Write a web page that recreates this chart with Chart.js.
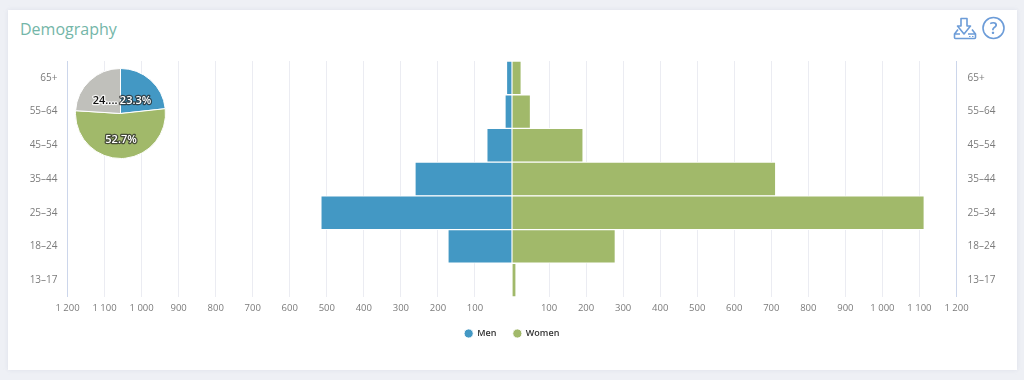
<!DOCTYPE html>
<html lang="en">
<head>
<meta charset="UTF-8" />
<title>Demography</title>
<script src="https://cdn.jsdelivr.net/npm/chart.js"></script>
<style>
  html, body { margin: 0; width: 1024px; height: 380px; overflow: hidden; background: #eef0f5; }
  .panel { position: absolute; left: 8px; top: 10px; width: 1009px; height: 360px; background: #fff; box-shadow: 0 0 4px rgba(190,195,215,.35); }
  .title { position: absolute; left: 20px; top: 18px; font: 400 16px "Open Sans", sans-serif; color: #74b6a8; }
  #pyramid { position: absolute; left: 0; top: 0; }
  #pie { position: absolute; left: 75px; top: 68px; }
  .icons { position: absolute; left: 953px; top: 15px; }
</style>
</head>
<body>
<div class="panel"></div>
<div class="title">Demography</div>
<canvas id="pyramid" width="1024" height="380"></canvas>
<canvas id="pie" width="91" height="91"></canvas>
<svg class="icons" width="56" height="26" viewBox="0 0 56 26" fill="none" stroke="#6c9cd8" stroke-width="1.6">
  <path d="M8 3.500h6V11h3.500L11 19 4.500 11H8z" stroke-linejoin="round"/>
  <path d="M5 14.500L1.500 19v3.500q0 1 1 1h19q1 0 1-1V19L19 14.500M1.500 19H7M15 19h7.500" stroke-linejoin="round"/>
  <path d="M16 21.500h1.500M19 21.500h1.500" stroke-width="1.200"/>
  <circle cx="40.500" cy="13" r="10.500"/>
  <text x="40.500" y="19" text-anchor="middle" font-family="Open Sans" font-weight="600" font-size="17" fill="#6c9cd8" stroke="none">?</text>
</svg>
<script>
const ageGroups = ['65+', '55–64', '45–54', '35–44', '25–34', '18–24', '13–17'];
const menValues = [-15, -19, -68, -262, -516, -173, 0];
const womenValues = [25, 50, 192, 712, 1113, 279, 11];
const tickStep = 100;
const axisMax = 1200;
const pieLabels = ['Men', 'Women', 'Other'];
const pieValues = [23.3, 52.7, 24.0];
const pieTexts = ['23.3%', '52.7%', '24....'];

const tickColor = '#7b7b7b';
const tickFont = { family: 'Open Sans', size: 9.5 };
const catFont = { family: 'Open Sans', size: 10 };

function fmt(v) {
  v = Math.abs(v);
  if (v === 0) return '';
  return v >= 1000 ? Math.floor(v / 1000) + ' ' + String(v % 1000).padStart(3, '0') : String(v);
}

new Chart(document.getElementById('pyramid'), {
  type: 'bar',
  data: {
    labels: ageGroups,
    datasets: [
      { label: 'Men', data: menValues, backgroundColor: '#4398c4', borderColor: '#fff', borderWidth: 1, barPercentage: 1, categoryPercentage: 1 },
      { label: 'Women', data: womenValues, backgroundColor: '#a1b96a', borderColor: '#fff', borderWidth: 1, barPercentage: 1, categoryPercentage: 1 }
    ]
  },
  options: {
    indexAxis: 'y',
    responsive: false,
    animation: false,
    layout: { padding: { top: 61, bottom: 32 } },
    plugins: {
      tooltip: { enabled: false },
      legend: {
        position: 'bottom',
        labels: { usePointStyle: true, pointStyle: 'circle', boxWidth: 8, boxHeight: 6.500, padding: 17, color: '#333', font: { family: 'Open Sans', size: 9, weight: '600' } }
      }
    },
    scales: {
      x: {
        stacked: true,
        min: -axisMax,
        max: axisMax,
        ticks: { stepSize: tickStep, autoSkip: false, maxRotation: 0, color: tickColor, font: tickFont, padding: 6, callback: fmt },
        grid: {
          drawTicks: false,
          color: c => Math.abs(c.tick.value) === axisMax ? '#ccd6eb' : (c.tick.value === 0 ? 'transparent' : '#ebecf2')
        },
        border: { display: false },
        afterFit: s => { s.height = 15; }
      },
      y: {
        stacked: true,
        ticks: { color: tickColor, font: catFont, padding: 2 },
        grid: { display: false },
        border: { display: false },
        afterFit: s => { s.width = 67.5; }
      },
      y2: {
        type: 'category',
        labels: ageGroups,
        position: 'right',
        offset: true,
        ticks: { color: tickColor, font: catFont, padding: 3 },
        grid: { display: false },
        border: { display: false },
        afterFit: s => { s.width = 67.5; }
      }
    }
  }
});

// slice labels, outlined like the original
const pieText = {
  id: 'pieText',
  afterDatasetsDraw(chart) {
    const ctx = chart.ctx;
    chart.getDatasetMeta(0).data.forEach((arc, i) => {
      const p = arc.tooltipPosition();
      const dark = i === 2;
      ctx.save();
      ctx.font = '600 11px "Open Sans"';
      ctx.textAlign = 'center';
      ctx.textBaseline = 'middle';
      ctx.lineJoin = 'round';
      ctx.lineWidth = 2.5;
      ctx.strokeStyle = dark ? 'rgba(255,255,255,.8)' : 'rgba(40,40,40,.75)';
      ctx.fillStyle = dark ? '#111' : '#fff';
      ctx.strokeText(pieTexts[i], p.x, p.y + 4);
      ctx.fillText(pieTexts[i], p.x, p.y + 4);
      ctx.restore();
    });
  }
};

new Chart(document.getElementById('pie'), {
  type: 'pie',
  data: {
    labels: pieLabels,
    datasets: [{ data: pieValues, backgroundColor: ['#4398c4', '#a1b96a', '#c0c0bb'], borderColor: '#fff', borderWidth: 1 }]
  },
  options: {
    responsive: false,
    animation: false,
    plugins: { legend: { display: false }, tooltip: { enabled: false } }
  },
  plugins: [pieText]
});
</script>
</body>
</html>
